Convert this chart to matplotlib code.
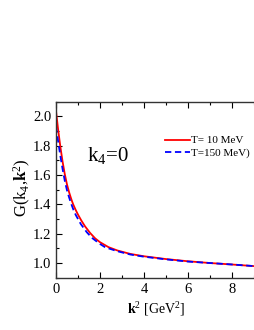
import numpy as np
import matplotlib.pyplot as plt
from matplotlib.ticker import MultipleLocator

# k^2 [GeV^2] sample points
k2_red = [0, 0.1, 0.2, 0.3, 0.4, 0.5, 0.6, 0.7, 0.78, 0.9, 1.0, 1.15, 1.32, 1.55,
          1.78, 2.0, 2.39, 2.8, 3.38, 4.0, 5.0, 6.0, 7.0, 8.0, 9.1]
G_red = [2.035, 1.905, 1.79, 1.69, 1.605, 1.535, 1.48, 1.433, 1.40, 1.36, 1.33, 1.29,
         1.25, 1.205, 1.168, 1.142, 1.108, 1.085, 1.062, 1.046, 1.027, 1.012, 1.0, 0.99, 0.978]

k2_blue = [0, 0.05, 0.1, 0.2, 0.3, 0.4, 0.5, 0.6, 0.7, 0.8, 0.9, 1.0, 1.13, 1.4, 1.63,
           2.0, 2.24, 2.8, 3.38, 4.0, 5.0, 6.0, 7.0, 8.0, 9.1]
G_blue = [1.93, 1.875, 1.825, 1.728, 1.64, 1.56, 1.495, 1.445, 1.40, 1.36, 1.327, 1.30,
          1.265, 1.21, 1.172, 1.13, 1.107, 1.08, 1.058, 1.043, 1.025, 1.01, 1.0, 0.99, 0.978]

labels = ["T= 10 MeV", "T=150 MeV)"]

plt.rcParams['font.family'] = ['Liberation Serif', 'DejaVu Serif']
plt.rcParams['mathtext.fontset'] = 'custom'
plt.rcParams['mathtext.rm'] = 'Liberation Serif'
plt.rcParams['mathtext.it'] = 'Liberation Serif'
plt.rcParams['mathtext.bf'] = 'Liberation Serif:bold'

fig = plt.figure(figsize=(2.55, 3.30), dpi=100)
ax = fig.add_axes([56/255, 1 - 277.7/330, 200/255, 176.2/330])

ax.plot(k2_red, G_red, color='#ff0000', lw=1.3, label=labels[0])
ax.plot(k2_blue, G_blue, color='#0000ff', lw=1.3, ls=(0, (3.5, 2)), label=labels[1])

ax.set_xlim(0, 9.1)
ax.set_ylim(0.9, 2.1)
ax.xaxis.set_minor_locator(MultipleLocator(1))
ax.yaxis.set_minor_locator(MultipleLocator(0.1))
ax.tick_params(which='both', direction='in', top=True, right=False, labelsize=10.5, width=0.8)
ax.tick_params(which='major', length=4)
ax.tick_params(which='minor', length=2.5)
ax.set_xticks([0, 2, 4, 6, 8])
ax.set_yticks([1.0, 1.2, 1.4, 1.6, 1.8, 2.0])
ax.set_xticklabels(['0', '2', '4', '6', '8'])
ax.set_yticklabels(['1.0', '1.2', '1.4', '1.6', '1.8', '2.0'])
for s in ax.spines.values():
    s.set_linewidth(1.0)
    s.set_color('#333333')

ax.set_xlabel(r'$\mathbf{k}^2$ [GeV$^2$]', fontsize=10, labelpad=3)
ax.set_ylabel(r'G(k$_4$,$\mathbf{k}^2$)', fontsize=12)
ax.yaxis.set_label_coords(-0.115, 0.51)
ax.text(0.155, 0.66, r'k$_4$=0', transform=ax.transAxes, fontsize=15, va='baseline')

ax.legend(loc='upper right', bbox_to_anchor=(1.01, 0.85), frameon=False, fontsize=8,
          handlelength=2.3, handletextpad=0.1, labelspacing=0.25, borderpad=0.2)

fig.savefig('out.png', dpi=100)
